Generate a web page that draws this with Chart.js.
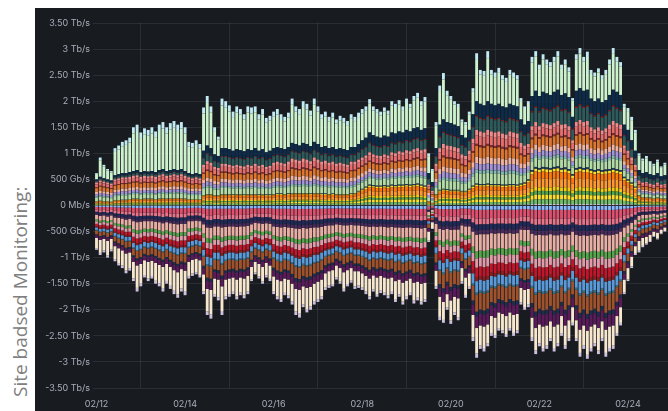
<!DOCTYPE html>
<html><head><meta charset="utf-8">
<script src="https://cdn.jsdelivr.net/npm/chart.js@4.4.1/dist/chart.umd.min.js"></script>
<style>
html,body{margin:0;padding:0;background:#fff;}
#wrap{position:relative;width:668px;height:411px;overflow:hidden;background:#fff;}
#title{position:absolute;left:7px;top:397px;transform-origin:0 0;transform:rotate(-90deg);white-space:nowrap;font-family:'Open Sans',sans-serif;font-size:19px;line-height:26px;color:#808080;}
#panel{position:absolute;left:35px;top:8px;width:633px;height:403px;background:#181b1f;}
canvas{display:block;}
</style></head><body>
<div id="wrap"><div id="title">Site badsed Monitoring:</div><div id="panel"><canvas id="c" width="633" height="403"></canvas></div></div>
<script>
// Time axis: one bar every 2 hours starting 02/12 00:00 (index 0)
const dayTickIdx = [0, 24, 48, 72, 96, 120, 144];
const dayLabels = ['02/12', '02/14', '02/16', '02/18', '02/20', '02/22', '02/24'];
const yTickValues = [-3.5,-3,-2.5,-2,-1.5,-1,-0.5,0,0.5,1,1.5,2,2.5,3,3.5];
const yTickLabels = ['-3.50 Tb/s','-3 Tb/s','-2.50 Tb/s','-2 Tb/s','-1.50 Tb/s','-1 Tb/s','-500 Gb/s','0 Mb/s','500 Gb/s','1 Tb/s','1.50 Tb/s','2 Tb/s','2.50 Tb/s','3 Tb/s','3.50 Tb/s'];

// Cumulative stack levels (Tb/s), one value per bar
// Positive side: top of core group, top of middle group, top of dark band, total
const posCore = [0.08,0.09,0.08,0.08,0.07, 0.10,0.10,0.11,0.11,0.12, 0.13,0.13,0.12,0.13,0.13, 0.13,0.12,0.13,0.14,0.13, 0.14,0.14,0.14,0.14,0.13, 0.12,0.12,0.12,0.12,0.20, 0.22,0.22,0.20,0.20,0.22, 0.22,0.22,0.21,0.22,0.22, 0.21,0.22,0.22,0.22,0.21, 0.22,0.21,0.21,0.22,0.23, 0.23,0.22,0.23,0.24,0.24, 0.24,0.24,0.24,0.23,0.24, 0.24,0.23,0.23,0.22,0.23, 0.22,0.22,0.22,0.22,0.23, 0.24,0.28,0.32,0.36,0.40, 0.39,0.38,0.38,0.39,0.38, 0.40,0.39,0.40,0.40,0.41, 0.40,0.41,0.42,0.40,0.38, 0.08,0.05,0.22,0.30,0.32, 0.31,0.30,0.30,0.30,0.28, 0.28,0.32,0.38,0.42,0.41, 0.41,0.42,0.41,0.41,0.41, 0.40,0.40,0.41,0.41,0.40, 0.42,0.44,0.50,0.68,0.74, 0.72,0.74,0.73,0.72,0.74, 0.75,0.72,0.73,0.70,0.60, 0.72,0.74,0.72,0.73,0.70, 0.68,0.70,0.68,0.69,0.70, 0.72,0.70,0.68,0.55,0.50, 0.44,0.36,0.20,0.16,0.16, 0.15,0.14,0.15,0.14,0.13];
const posMid = [0.44,0.48,0.46,0.44,0.42, 0.50,0.52,0.54,0.54,0.55, 0.57,0.58,0.55,0.57,0.56, 0.57,0.55,0.58,0.60,0.57, 0.58,0.60,0.58,0.60,0.57, 0.54,0.52,0.54,0.52,0.78, 0.85,0.82,0.74,0.72,0.80, 0.80,0.78,0.76,0.78,0.76, 0.75,0.78,0.76,0.80,0.76, 0.78,0.74,0.76,0.82,0.84, 0.82,0.80,0.84,0.90,0.88, 0.86,0.90,0.88,0.85,0.92, 0.88,0.84,0.86,0.82,0.84, 0.80,0.82,0.80,0.78,0.84, 0.84,0.88,0.92,0.96,1.02, 0.98,0.96,0.95,0.98,0.96, 1.02,1.00,1.04,1.02,1.06, 1.04,1.08,1.10,1.06,1.08, 0.40,0.28,0.80,1.10,1.18, 1.15,1.14,1.12,1.10,0.98, 0.95,1.05,1.28,1.45,1.42, 1.40,1.45,1.42,1.40,1.42, 1.38,1.36,1.42,1.40,1.38, 1.20,1.15,1.18,1.52,1.60, 1.52,1.58,1.56,1.54,1.58, 1.62,1.55,1.56,1.52,1.25, 1.60,1.64,1.60,1.62,1.50, 1.46,1.50,1.44,1.48,1.55, 1.62,1.58,1.55,1.15,1.05, 0.92,0.78,0.48,0.44,0.45, 0.42,0.40,0.44,0.40,0.41];
const posDark = [0.50,0.55,0.52,0.50,0.48, 0.58,0.60,0.62,0.62,0.64, 0.66,0.68,0.64,0.66,0.65, 0.66,0.64,0.68,0.70,0.66, 0.68,0.70,0.68,0.70,0.66, 0.62,0.60,0.62,0.60,1.05, 1.15,1.10,0.98,0.95,1.10, 1.10,1.08,1.05,1.08,1.06, 1.04,1.08,1.06,1.10,1.05, 1.08,1.02,1.05,1.10,1.12, 1.10,1.08,1.12,1.20,1.18, 1.15,1.20,1.18,1.14,1.22, 1.18,1.12,1.14,1.10,1.12, 1.08,1.10,1.08,1.06,1.12, 1.12,1.18,1.25,1.30,1.40, 1.35,1.32,1.30,1.34,1.32, 1.40,1.38,1.42,1.40,1.45, 1.42,1.48,1.50,1.45,1.48, 0.62,0.45,1.10,1.55,1.65, 1.60,1.58,1.55,1.52,1.35, 1.30,1.45,1.75,2.00,1.95, 1.92,2.00,1.95,1.92,1.95, 1.90,1.88,1.95,1.92,1.90, 1.65,1.55,1.62,2.10,2.20, 2.10,2.18,2.15,2.12,2.18, 2.22,2.12,2.15,2.08,1.70, 2.20,2.25,2.20,2.22,2.05, 2.00,2.05,1.98,2.02,2.12, 2.22,2.18,2.12,1.55,1.45, 1.25,1.05,0.68,0.62,0.64, 0.60,0.58,0.62,0.56,0.58];
const posTop = [0.62,0.92,0.78,0.70,0.66, 1.10,1.15,1.22,1.25,1.30, 1.50,1.55,1.40,1.48,1.45, 1.50,1.42,1.55,1.60,1.50, 1.58,1.62,1.55,1.60,1.50, 1.22,1.20,1.25,1.18,1.88, 2.10,1.90,1.50,1.32,2.05, 2.00,1.92,1.80,1.90,1.85, 1.75,1.90,1.88,1.90,1.75, 1.85,1.68,1.72,1.80,1.85, 1.75,1.70,1.78,2.05,1.90, 1.85,2.00,1.95,1.82,2.05, 1.90,1.75,1.80,1.70,1.78, 1.65,1.72,1.68,1.62,1.75, 1.70,1.78,1.85,1.90,2.04, 1.90,1.85,1.80,1.88,1.82, 2.00,1.95,2.02,1.90,2.05, 1.95,2.10,2.16,2.00,2.08, 1.00,0.70,1.60,2.30,2.54, 2.20,2.10,2.00,1.95,1.65, 1.60,1.80,2.25,2.92,2.60, 2.58,2.96,2.60,2.55,2.64, 2.50,2.45,2.60,2.55,2.50, 2.06,1.90,2.00,2.85,2.96, 2.70,2.90,2.80,2.75,2.85, 2.96,2.70,2.80,2.65,2.06, 2.90,3.02,2.85,2.95,2.60, 2.55,2.63,2.50,2.60,2.80, 3.02,2.85,2.75,1.95,1.87, 1.70,1.45,1.00,0.90,0.95, 0.85,0.80,0.88,0.75,0.82];
// Negative side: bottom of near-zero group, bottom of middle group, top of cream band, total
const negNear = [-0.18,-0.20,-0.19,-0.21,-0.19, -0.23,-0.24,-0.25,-0.27,-0.26, -0.30,-0.32,-0.31,-0.30,-0.30, -0.30,-0.31,-0.32,-0.34,-0.32, -0.34,-0.35,-0.36,-0.35,-0.35, -0.30,-0.30,-0.29,-0.30,-0.36, -0.42,-0.43,-0.40,-0.40,-0.42, -0.41,-0.40,-0.40,-0.41,-0.40, -0.40,-0.39,-0.36,-0.33,-0.34, -0.35,-0.34,-0.35,-0.40,-0.41, -0.42,-0.41,-0.42,-0.43,-0.44, -0.45,-0.43,-0.44,-0.43,-0.42, -0.42,-0.41,-0.39,-0.38,-0.38, -0.36,-0.37,-0.38,-0.38,-0.37, -0.38,-0.38,-0.39,-0.40,-0.41, -0.40,-0.41,-0.40,-0.41,-0.42, -0.41,-0.42,-0.42,-0.43,-0.42, -0.42,-0.43,-0.43,-0.44,-0.43, -0.12,-0.08,-0.35,-0.45,-0.47, -0.45,-0.47,-0.46,-0.46,-0.38, -0.40,-0.40,-0.50,-0.56,-0.55, -0.55,-0.55,-0.53,-0.54,-0.53, -0.53,-0.54,-0.53,-0.54,-0.53, -0.46,-0.47,-0.47,-0.54,-0.57, -0.56,-0.57,-0.57,-0.55,-0.57, -0.57,-0.55,-0.57,-0.56,-0.50, -0.56,-0.58,-0.57,-0.58,-0.57, -0.56,-0.57,-0.55,-0.57,-0.57, -0.56,-0.54,-0.50,-0.42,-0.38, -0.33,-0.27,-0.20,-0.18,-0.18, -0.17,-0.16,-0.17,-0.15,-0.14];
const negMid = [-0.42,-0.45,-0.44,-0.46,-0.44, -0.52,-0.55,-0.57,-0.60,-0.60, -0.72,-0.76,-0.74,-0.70,-0.72, -0.70,-0.72,-0.75,-0.78,-0.74, -0.78,-0.80,-0.82,-0.80,-0.80, -0.70,-0.68,-0.66,-0.68,-0.85, -0.98,-1.00,-0.90,-0.90,-0.96, -0.92,-0.90,-0.90,-0.92,-0.90, -0.90,-0.88,-0.78,-0.72,-0.75, -0.78,-0.74,-0.76,-0.88,-0.92, -0.94,-0.90,-0.92,-0.96,-1.00, -1.02,-0.98,-1.00,-0.98,-0.95, -0.94,-0.90,-0.86,-0.84,-0.82, -0.78,-0.80,-0.84,-0.82,-0.80, -0.84,-0.84,-0.86,-0.88,-0.92, -0.88,-0.90,-0.88,-0.90,-0.92, -0.90,-0.94,-0.92,-0.96,-0.94, -0.92,-0.96,-0.95,-0.98,-0.96, -0.30,-0.20,-0.80,-1.05,-1.10, -1.02,-1.08,-1.05,-1.06,-0.82, -0.90,-0.86,-1.30,-1.45,-1.42, -1.44,-1.42,-1.35,-1.36,-1.32, -1.33,-1.36,-1.32,-1.34,-1.33, -1.05,-1.08,-1.06,-1.35,-1.45, -1.42,-1.44,-1.43,-1.38,-1.44, -1.42,-1.34,-1.43,-1.38,-1.25, -1.38,-1.46,-1.42,-1.48,-1.44, -1.42,-1.45,-1.38,-1.46,-1.44, -1.42,-1.34,-1.25,-0.95,-0.82, -0.68,-0.55,-0.42,-0.38,-0.37, -0.35,-0.32,-0.33,-0.30,-0.28];
const negLow = [-0.62,-0.66,-0.64,-0.68,-0.64, -0.78,-0.82,-0.86,-0.92,-0.90, -1.08,-1.15,-1.12,-1.05,-1.08, -1.06,-1.10,-1.14,-1.18,-1.12, -1.18,-1.24,-1.28,-1.22,-1.25, -1.08,-1.04,-1.02,-1.05,-1.32, -1.60,-1.62,-1.40,-1.42,-1.55, -1.42,-1.40,-1.38,-1.42,-1.38, -1.40,-1.35,-1.18,-1.08,-1.12, -1.18,-1.10,-1.15,-1.36,-1.42, -1.45,-1.40,-1.42,-1.50,-1.60, -1.62,-1.55,-1.58,-1.56,-1.50, -1.46,-1.42,-1.30,-1.26,-1.24, -1.15,-1.20,-1.28,-1.24,-1.20, -1.26,-1.26,-1.30,-1.35,-1.40, -1.34,-1.38,-1.35,-1.38,-1.40, -1.38,-1.45,-1.42,-1.48,-1.44, -1.40,-1.48,-1.46,-1.50,-1.48, -0.50,-0.32,-1.25,-1.75,-1.85, -1.70,-1.82,-1.75,-1.78,-1.20, -1.38,-1.30,-2.10,-2.35,-2.30, -2.32,-2.28,-2.12,-2.15,-2.05, -2.08,-2.12,-2.05,-2.10,-2.08, -1.58,-1.62,-1.60,-2.15,-2.35, -2.28,-2.32,-2.30,-2.22,-2.32, -2.28,-2.12,-2.30,-2.20,-1.95, -2.20,-2.38,-2.30,-2.40,-2.32, -2.28,-2.35,-2.22,-2.38,-2.32, -2.30,-2.12,-1.95,-1.42,-1.20, -0.98,-0.78,-0.68,-0.62,-0.60, -0.56,-0.50,-0.52,-0.46,-0.42];
const negBot = [-0.85,-0.95,-0.90,-1.00,-0.88, -1.07,-1.15,-1.20,-1.30,-1.25, -1.45,-1.65,-1.55,-1.38,-1.45, -1.40,-1.50,-1.55,-1.65,-1.50, -1.60,-1.70,-1.77,-1.65,-1.72, -1.40,-1.35,-1.32,-1.38,-1.70, -2.10,-2.17,-1.75,-1.82,-2.10, -1.80,-1.75,-1.70,-1.80,-1.72, -1.78,-1.70,-1.45,-1.32,-1.40, -1.50,-1.38,-1.45,-1.70,-1.80, -1.85,-1.72,-1.78,-1.90,-2.10, -2.15,-1.95,-2.05,-2.00,-1.90, -1.85,-1.80,-1.62,-1.58,-1.55, -1.42,-1.50,-1.65,-1.55,-1.48, -1.60,-1.58,-1.62,-1.70,-1.80, -1.65,-1.75,-1.68,-1.72,-1.78, -1.70,-1.85,-1.75,-1.90,-1.80, -1.72,-1.88,-1.82,-1.90,-1.85, -0.70,-0.45,-1.60,-2.20,-2.25, -2.00,-2.27,-2.10,-2.20,-1.50, -1.77,-1.60,-2.60,-2.92,-2.75, -2.80,-2.70,-2.50,-2.54,-2.40, -2.45,-2.52,-2.40,-2.50,-2.45, -1.90,-2.00,-1.95,-2.60,-2.85, -2.70,-2.80,-2.75,-2.60,-2.80, -2.70,-2.50,-2.75,-2.60,-2.30, -2.60,-2.90,-2.75,-2.94,-2.80, -2.70,-2.85,-2.60,-2.90,-2.80, -2.75,-2.50,-2.30,-1.70,-1.45, -1.20,-0.95,-0.90,-0.80,-0.75, -0.70,-0.60,-0.65,-0.55,-0.50];

// Series inside each band (bottom-up from zero), with their colours and share of the band
const coreColors = ['#c9cbd3','#73bf69','#fade2a','#56a64b','#f2cc0c','#ff9830','#ff780a','#fade2a','#1f3a60'];
const coreShares = [0.04,0.12,0.12,0.10,0.10,0.22,0.18,0.07,0.05];
const midColors = ['#b3dba6','#86bcb4','#a493d6','#f2b4a0','#e0752d','#8a2a2a','#e86e6e','#f08c8c'];
const midShares = [0.20,0.06,0.12,0.12,0.20,0.04,0.16,0.10];
const darkColors = ['#2e5a5c','#7a2020','#0d2b4a'];
const darkShares = [0.45,0.05,0.50];
const mintColors = ['#cdf2cd','#c2ebf3'];
const mintShares = [0.86,0.14];
const nearColors = ['#8ab8ff','#e0506e','#e8748c','#1f2a5a','#4b2a5e'];
const nearShares = [0.15,0.30,0.20,0.20,0.15];
const nmidColors = ['#e8aea4','#56a64b','#e39aa8','#c4162a','#8f1d1d'];
const nmidShares = [0.36,0.15,0.20,0.21,0.08];
const lowColors = ['#5a9ad8','#3a6e80','#a0522d','#1f2d4d','#5c1a5c'];
const lowShares = [0.24,0.05,0.36,0.10,0.25];
const creamColors = ['#f7e7cf','#cfc2e0'];
const creamShares = [0.86,0.14];

const N = posTop.length;
const zeros = posTop.map(() => 0);
const bands = [
  [zeros, posCore, coreColors, coreShares],
  [posCore, posMid, midColors, midShares],
  [posMid, posDark, darkColors, darkShares],
  [posDark, posTop, mintColors, mintShares],
  [zeros, negNear, nearColors, nearShares],
  [negNear, negMid, nmidColors, nmidShares],
  [negMid, negLow, lowColors, lowShares],
  [negLow, negBot, creamColors, creamShares]
];
const datasets = [];
bands.forEach(([inner, outer, colors, shares]) => {
  colors.forEach((col, k) => {
    datasets.push({
      data: outer.map((v, i) => ({x: i, y: (v - inner[i]) * shares[k]})),
      backgroundColor: col,
      borderWidth: 0,
      stack: 's',
      barPercentage: 0.78,
      categoryPercentage: 1.0
    });
  });
});

const gridColor = 'rgba(204,204,220,0.10)';
const tickColor = 'rgba(204,204,220,0.82)';
new Chart(document.getElementById('c'), {
  type: 'bar',
  data: { datasets },
  options: {
    responsive: false,
    animation: false,
    events: [],
    layout: { padding: { top: 15, right: 0, bottom: 0, left: 0 } },
    plugins: { legend: { display: false }, tooltip: { enabled: false } },
    scales: {
      x: {
        type: 'linear', stacked: true, offset: false,
        min: -0.95, max: 154.85,
        afterBuildTicks: s => { s.ticks = dayTickIdx.map(v => ({value: v})); },
        afterFit: s => { s.height = 23; },
        ticks: {
          autoSkip: false, maxRotation: 0, padding: 11, color: tickColor,
          font: { family: 'Inter', size: 9 },
          callback: v => { const k = dayTickIdx.indexOf(v); return k >= 0 ? dayLabels[k] : ''; }
        },
        grid: { color: gridColor, drawTicks: false },
        border: { display: false }
      },
      y: {
        type: 'linear', stacked: true,
        min: -3.5, max: 3.5,
        afterBuildTicks: s => { s.ticks = yTickValues.map(v => ({value: v})); },
        afterFit: s => { s.width = 58; },
        ticks: {
          padding: 3, color: tickColor,
          font: { family: 'Inter', size: 9 },
          callback: v => { const k = yTickValues.findIndex(t => Math.abs(t - v) < 1e-6); return k >= 0 ? yTickLabels[k] : ''; }
        },
        grid: { color: gridColor, drawTicks: false },
        border: { display: false }
      }
    }
  }
});
</script>
</body></html>
